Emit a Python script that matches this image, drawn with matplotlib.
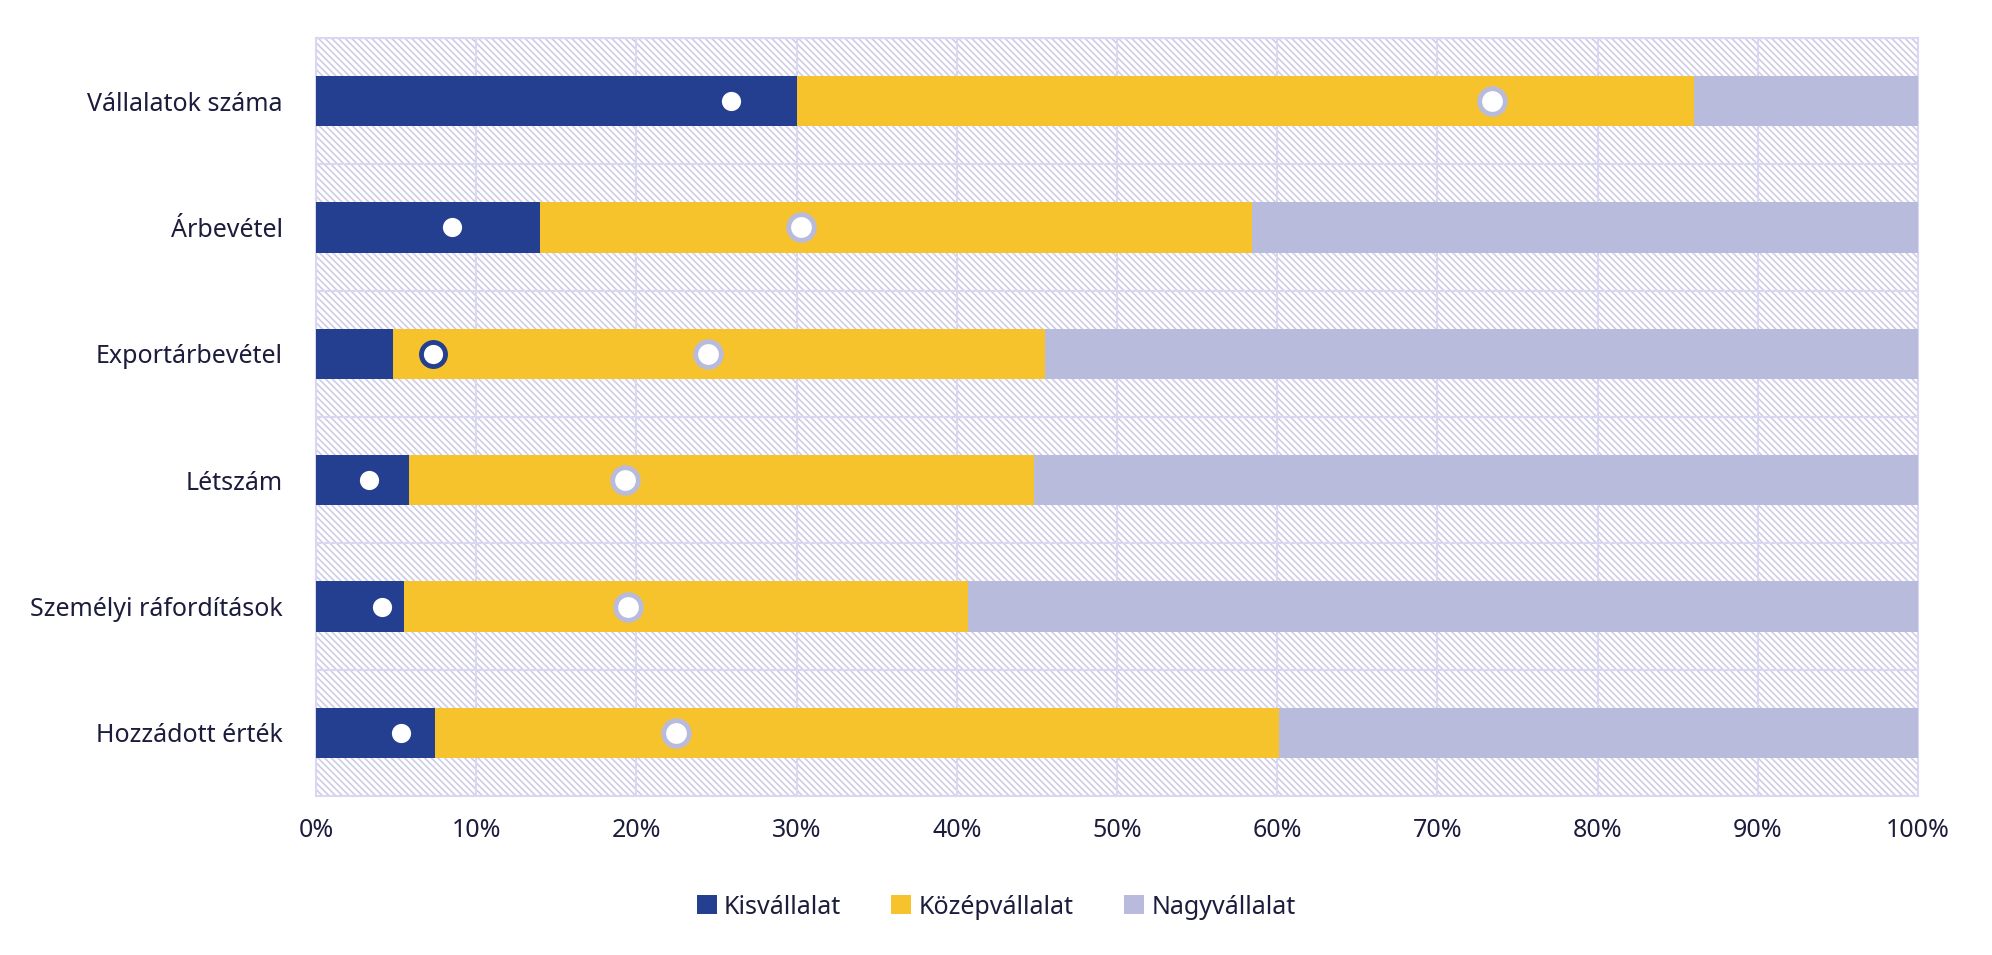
import matplotlib.pyplot as plt
from matplotlib.patches import Rectangle
import numpy as np

plt.rcParams['font.family'] = ['Noto Sans', 'DejaVu Sans']
plt.rcParams['hatch.linewidth'] = 1.2

categories = ['Vállalatok száma', 'Árbevétel', 'Exportárbevétel', 'Létszám',
              'Személyi ráfordítások', 'Hozzádott érték']
series = ['Kisvállalat', 'Középvállalat', 'Nagyvállalat']
kis = [30.0, 14.0, 4.8, 5.8, 5.5, 7.4]
kozep = [56.0, 44.4, 40.7, 39.0, 35.2, 52.7]
nagy = [14.0, 41.6, 54.5, 55.2, 59.3, 39.9]
# marker series (white dots)
kis_pont = [25.9, 8.5, 7.3, 3.3, 4.1, 5.3]
kozep_pont = [73.4, 30.3, 24.5, 19.3, 19.5, 22.5]

c_kis = '#243f8f'
c_kozep = '#f7c32c'
c_nagy = '#b9bbdc'
c_grid = '#d9d7f1'
c_text = '#1c1c3c'

fig = plt.figure(figsize=(19.92, 9.55), dpi=100)
ax = fig.add_axes([316 / 1992, 1 - 796 / 955, (1918 - 316) / 1992, (796 - 38) / 955])

y = np.arange(len(categories))

# hatched background
ax.add_patch(Rectangle((0, 0), 1, 1, transform=ax.transAxes, facecolor='white',
                       edgecolor='#cfcde6', hatch='\\\\\\\\\\', lw=0, zorder=0))

ax.barh(y, kis, height=0.4, color=c_kis, label=series[0], zorder=3)
ax.barh(y, kozep, left=kis, height=0.4, color=c_kozep, label=series[1], zorder=3)
left2 = np.array(kis) + np.array(kozep)
ax.barh(y, nagy, left=left2, height=0.4, color=c_nagy, label=series[2], zorder=3)

ax.scatter(kis_pont, y, s=300, facecolor='white', edgecolor=c_kis, linewidth=3.5, zorder=4)
ax.scatter(kozep_pont, y, s=340, facecolor='white', edgecolor=c_nagy, linewidth=3.5, zorder=4)

ax.set_xlim(0, 100)
ax.set_ylim(len(categories) - 0.5, -0.5)
ax.set_xticks(np.arange(0, 101, 10))
ax.set_xticklabels([f'{v}%' for v in range(0, 101, 10)])
ax.set_yticks(y)
ax.set_yticklabels(categories)
ax.set_yticks(np.arange(-0.5, len(categories), 1.0), minor=True)

ax.grid(axis='x', which='major', color=c_grid, lw=1.5, zorder=1)
ax.grid(axis='y', which='minor', color=c_grid, lw=1.5, zorder=1)
ax.grid(axis='y', which='major', visible=False)
ax.set_axisbelow(True)

for s in ax.spines.values():
    s.set_color(c_grid)
    s.set_linewidth(1.5)
ax.tick_params(which='both', length=0, labelsize=18, colors=c_text, pad=16)
ax.tick_params(axis='y', pad=24)

fig.legend(*ax.get_legend_handles_labels(), loc='center', bbox_to_anchor=(0.5, 1 - 907 / 955),
           ncol=3, frameon=False, fontsize=18, labelcolor=c_text, handlelength=0.8,
           handleheight=0.8, handletextpad=0.3, columnspacing=2.0)

fig.savefig('out.png', dpi=100)
